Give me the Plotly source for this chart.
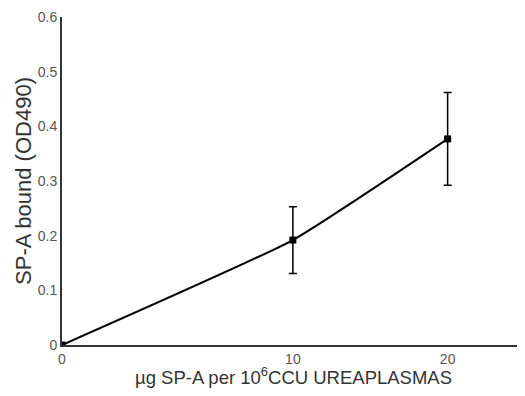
import plotly.graph_objects as go
import math

# Data
dose_ug = [0, 10, 20]
sp_a_bound = [0.0, 0.192, 0.377]
sp_a_err = [0.0, 0.061, 0.085]
x_tick_labels = ["0", "10", "20"]
y_tick_vals = [0, 0.1, 0.2, 0.3, 0.4, 0.5, 0.6]
y_tick_text = ["0", "0.1", "0.2", "0.3", "0.4", "0.5", "0.6"]

# The original x axis is compressed toward higher doses; emulate with an offset log scale
X_OFFSET = 16
x_plot = [d + X_OFFSET for d in dose_ug]

fig = go.Figure()
fig.add_trace(go.Scatter(
    x=x_plot, y=sp_a_bound,
    mode="lines+markers",
    line=dict(color="black", width=2, shape="spline", smoothing=0.4),
    marker=dict(symbol="square", size=7, color="black"),
    error_y=dict(type="data", array=sp_a_err, visible=True,
                 color="black", thickness=1.5, width=4),
    showlegend=False,
))

x_lo = math.log10(X_OFFSET)
x_hi = x_lo + 463 / 1095

fig.update_layout(
    width=517, height=380,
    margin=dict(l=54, r=0, t=9, b=43),
    paper_bgcolor="white", plot_bgcolor="white",
    font=dict(family="Liberation Sans, Arial, sans-serif", color="#333"),
    xaxis=dict(
        type="log", range=[x_lo, x_hi],
        tickvals=x_plot, ticktext=x_tick_labels,
        showgrid=False, zeroline=False,
        showline=True, linecolor="#333", linewidth=2,
        ticks="", tickfont=dict(size=14, color="#555"),
        title=dict(text="µg SP-A per 10<sup>6</sup>CCU UREAPLASMAS",
                   font=dict(size=18.5, color="#333"), standoff=3),
    ),
    yaxis=dict(
        range=[0, 0.6],
        tickvals=y_tick_vals, ticktext=y_tick_text,
        showgrid=False, zeroline=False,
        showline=True, linecolor="#333", linewidth=2,
        ticks="", tickfont=dict(size=14, color="#555"),
        title=dict(text="SP-A bound (OD490)",
                   font=dict(size=22, color="#333"), standoff=0),
    ),
)

fig.write_html("out.html")
